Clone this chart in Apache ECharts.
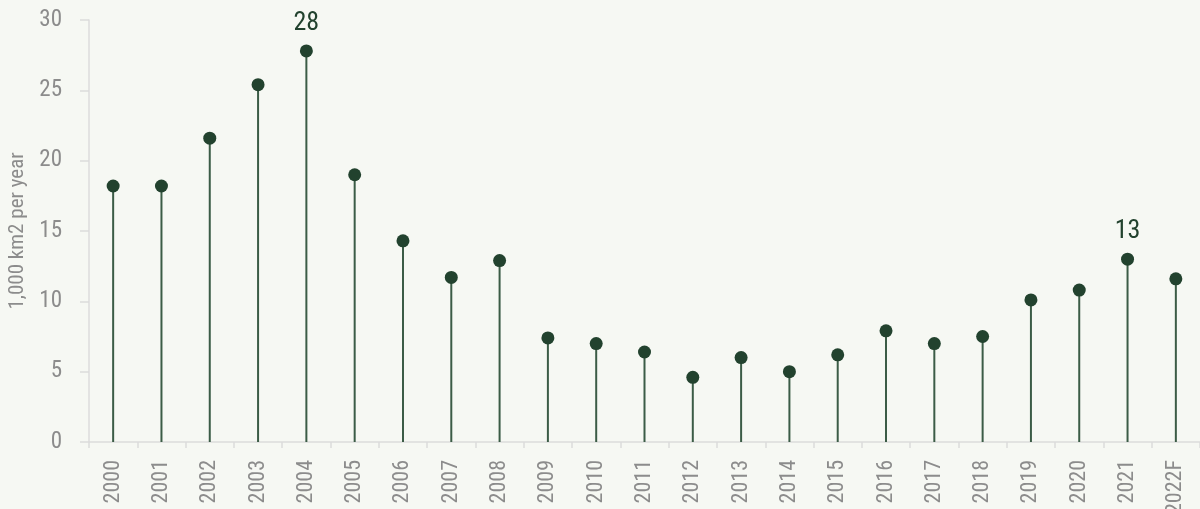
<!DOCTYPE html>
<html>
<head>
    <meta charset="utf-8">
    <title>Loss per year</title>
    <script src="https://cdn.jsdelivr.net/npm/echarts@6/dist/echarts.min.js"></script>
    <style>
        html, body { margin: 0; padding: 0; background: #f6f8f3; }
        #main { width: 1200px; height: 509px; }
    </style>
</head>
<body>
    <div id="main"></div>
    <script>
        // 数据
        var years = ['2000', '2001', '2002', '2003', '2004', '2005', '2006', '2007', '2008', '2009', '2010',
            '2011', '2012', '2013', '2014', '2015', '2016', '2017', '2018', '2019', '2020', '2021', '2022F'];
        var values = [18.2, 18.2, 21.6, 25.4, 27.8, 19.0, 14.3, 11.7, 12.9, 7.4, 7.0,
            6.4, 4.6, 6.0, 5.0, 6.2, 7.9, 7.0, 7.5, 10.1, 10.8, 13.0, 11.6];
        var labelled = ['2004', '2021']; // 只标这两个点

        var font = '"Roboto Condensed", "Liberation Sans Narrow", sans-serif';
        var dark = '#22422e';
        var stem = '#3b5c46';
        var grey = '#8c8c8c';
        var axisGrey = '#dcdcdc';

        var dots = values.map(function (v, i) {
            var item = { value: v };
            if (labelled.indexOf(years[i]) >= 0) {
                item.label = {
                    show: true,
                    position: 'top',
                    distance: 8,
                    formatter: function (p) { return Math.round(p.value); },
                    color: dark,
                    fontSize: 26,
                    fontFamily: font
                };
            }
            return item;
        });

        var myChart = echarts.init(document.getElementById('main'));
        var option = {
            backgroundColor: '#f6f8f3',
            animation: false,
            grid: { left: 89, right: 0, top: 20, bottom: 67, containLabel: false, outerBoundsMode: 'none' },
            xAxis: {
                type: 'category',
                data: years,
                axisLine: { lineStyle: { color: axisGrey, width: 1.5 } },
                axisTick: { show: true, length: 6, lineStyle: { color: axisGrey, width: 1.5 } },
                axisLabel: { rotate: 90, color: grey, fontSize: 22, fontFamily: font, margin: 18 }
            },
            yAxis: {
                type: 'value',
                min: 0,
                max: 30,
                interval: 5,
                name: '1,000 km2 per year',
                nameLocation: 'middle',
                nameGap: 58,
                nameTextStyle: { color: grey, fontSize: 21, fontFamily: font },
                axisLine: { show: true, lineStyle: { color: axisGrey, width: 1.5 } },
                axisTick: { show: true, length: 9, lineStyle: { color: axisGrey, width: 1.5 } },
                axisLabel: { color: grey, fontSize: 23, fontFamily: font, margin: 27 },
                splitLine: { show: false }
            },
            series: [
                {
                    type: 'bar',
                    data: values,
                    barWidth: 2,
                    itemStyle: { color: stem },
                    silent: true
                },
                {
                    type: 'scatter',
                    data: dots,
                    symbolSize: 13,
                    itemStyle: { color: dark, opacity: 1 }
                }
            ]
        };
        myChart.setOption(option);
    </script>
</body>
</html>
